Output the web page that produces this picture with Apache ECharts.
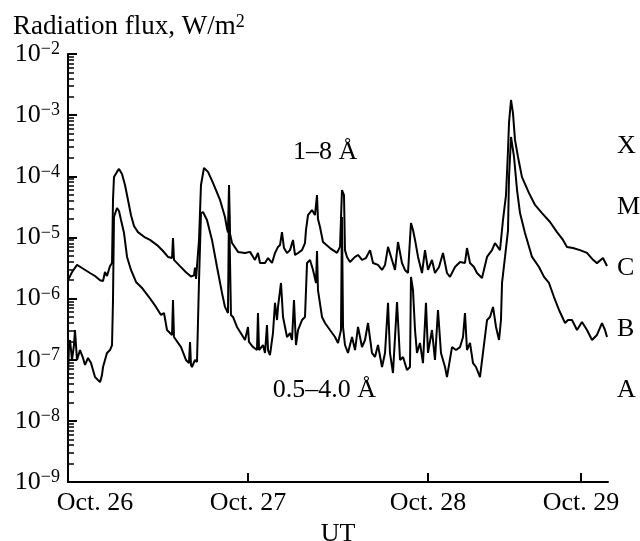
<!DOCTYPE html>
<html><head><meta charset="utf-8">
<script src="https://cdn.jsdelivr.net/npm/echarts@6/dist/echarts.min.js"></script>
<style>html,body{margin:0;padding:0;background:#fff}#c{width:640px;height:541px}</style>
</head><body><div id="c"></div>
<script>
// [hours from Oct. 26 00:00 UT, flux W/m^2]
const longBand = [[0,2.0e-6],[0.53,2.7e-6],[1.2,3.55e-6],[1.87,3.16e-6],[2.93,2.62e-6],[3.6,2.34e-6],[4.27,2.0e-6],[4.67,1.94e-6],[4.93,2.72e-6],[5.2,2.34e-6],
[5.6,3.4e-6],[5.87,3.8e-6],[6.0,4.1e-5],[6.13,9.7e-5],[6.53,1.18e-4],[6.8,1.32e-4],[7.2,1.09e-4],[7.6,7.2e-5],[8.0,4.1e-5],[8.4,2.3e-5],
[8.8,1.54e-5],[9.33,1.22e-5],[10.27,1.0e-5],[10.93,9.1e-6],[11.87,7.5e-6],[12.67,6.0e-6],[13.33,4.8e-6],[13.87,4.6e-6],[14.0,9.8e-6],[14.13,4.3e-6],
[14.93,3.4e-6],[15.73,2.7e-6],[16.4,2.3e-6],[16.8,2.4e-6],[16.93,3.2e-6],[17.07,2.1e-6],[17.2,2.0e-6],[17.47,9.1e-6],[17.73,7.2e-5],[18.13,1.37e-4],
[18.67,1.18e-4],[19.33,7.8e-5],[20.27,4.1e-5],[20.93,2.16e-5],[21.2,1.4e-5],[21.33,1.2e-5],[21.47,7.2e-5],[21.6,1.15e-5],[21.87,8.1e-6],[22.67,5.8e-6],
[23.6,5.57e-6],[24.27,5.8e-6],[24.93,4.28e-6],[25.33,5.57e-6],[25.6,3.82e-6],[26.27,3.82e-6],[26.67,4.6e-6],[27.2,3.82e-6],[27.6,5.57e-6],[28.0,7.0e-6],
[28.27,7.5e-6],[28.53,1.22e-5],[28.8,6.7e-6],[29.2,5.57e-6],[29.6,6.2e-6],[30.0,9.1e-6],[30.27,5.16e-6],[30.67,5.57e-6],[31.2,6.2e-6],[31.6,8.1e-6],
[31.73,1.32e-5],[32.0,2.32e-5],[32.53,2.81e-5],[32.93,2.32e-5],[33.2,4.94e-5],[33.33,2.0e-5],[33.6,1.48e-5],[34.0,8.4e-6],[34.93,6.7e-6],[35.87,5.6e-6],
[36.27,7.0e-6],[36.53,5.96e-5],[36.8,4.9e-5],[36.93,6.2e-6],[37.2,4.8e-6],[37.6,3.97e-6],[38.27,4.8e-6],[38.67,5.16e-6],[39.2,4.28e-6],[39.73,4.6e-6],
[40.27,6.2e-6],[40.67,3.82e-6],[41.33,3.55e-6],[41.87,2.94e-6],[42.27,3.55e-6],[42.67,7.0e-6],[43.2,4.28e-6],[43.6,2.94e-6],[44.0,8.4e-6],[44.53,3.82e-6],
[44.93,2.94e-6],[45.33,2.62e-6],[45.73,1.72e-5],[46.0,1.32e-5],[46.27,9.1e-6],[46.67,4.8e-6],[47.2,2.62e-6],[47.6,6.2e-6],[48.0,2.94e-6],[48.53,4.28e-6],
[48.93,2.62e-6],[49.47,3.29e-6],[50.0,5.57e-6],[50.53,2.62e-6],[50.93,2.26e-6],[51.6,3.29e-6],[52.27,3.97e-6],[52.93,3.82e-6],[53.2,6.7e-6],[53.6,3.82e-6],
[54.13,3.29e-6],[54.53,2.62e-6],[55.2,2.17e-6],[55.87,4.8e-6],[56.53,6.2e-6],[56.93,8.1e-6],[57.6,6.2e-6],[58.0,1.93e-5],[58.4,4.94e-5],[58.67,2.69e-4],
[58.8,7.45e-4],[59.07,1.77e-3],[59.33,1.08e-3],[59.6,3.93e-4],[60.0,2.07e-4],[60.53,9.7e-5],[61.47,5.3e-5],[62.27,3.4e-5],[63.2,2.5e-5],[64.27,1.79e-5],
[65.2,1.22e-5],[66.0,9.1e-6],[66.53,7.0e-6],[67.33,6.7e-6],[68.27,6.2e-6],[69.2,5.6e-6],[70.0,4.3e-6],[70.53,3.8e-6],[71.33,4.6e-6],[71.87,3.4e-6]];

const shortBand = [[0,5.2e-8],[0.13,1.74e-7],[0.27,2.1e-7],[0.53,9.9e-8],[0.8,1.74e-7],[0.93,3.06e-7],[1.2,9.9e-8],[1.6,1.44e-7],[2.0,1.07e-7],[2.27,8.2e-8],
[2.67,1.07e-7],[3.07,8.8e-8],[3.6,5.2e-8],[4.27,4.3e-8],[4.53,5.6e-8],[4.67,7.6e-8],[4.93,9.9e-8],[5.2,1.29e-7],[5.6,1.44e-7],[5.87,1.74e-7],
[6.0,9.5e-7],[6.13,2.16e-5],[6.53,3.03e-5],[6.8,2.7e-5],[7.07,1.93e-5],[7.47,1.18e-5],[7.87,4.8e-6],[8.4,2.94e-6],[9.07,1.87e-6],[9.87,1.49e-6],
[10.8,1.06e-6],[11.73,7.3e-7],[12.4,5.4e-7],[12.8,5.8e-7],[13.2,3.06e-7],[13.87,2.54e-7],[14.0,9.5e-7],[14.13,2.35e-7],[15.07,1.61e-7],[15.73,9.9e-8],
[16.13,8.8e-8],[16.27,1.95e-7],[16.4,8.2e-8],[16.53,7.6e-8],[16.93,9.9e-8],[17.2,9.2e-8],[17.47,2.0e-6],[17.73,2.5e-5],[18.0,2.6e-5],[18.53,1.93e-5],
[19.2,9.1e-6],[19.87,3.29e-6],[20.53,1.24e-6],[20.93,7.3e-7],[21.33,5.8e-7],[21.47,3.3e-5],[21.73,5.4e-7],[22.0,5.0e-7],[22.53,3.43e-7],[23.2,2.54e-7],
[23.6,2.1e-7],[24.0,3.43e-7],[24.13,1.95e-7],[24.67,1.61e-7],[25.2,1.44e-7],[25.33,5.8e-7],[25.47,1.44e-7],[25.6,1.34e-7],[26.0,1.74e-7],[26.27,1.29e-7],
[26.53,3.7e-7],[26.67,1.44e-7],[26.93,1.19e-7],[27.33,2.73e-7],[27.6,8.5e-7],[27.87,4.46e-7],[28.0,7.3e-7],[28.4,1.8e-6],[28.67,5.0e-7],[29.2,2.35e-7],
[29.6,2.73e-7],[29.87,2.1e-7],[30.13,9.5e-7],[30.4,1.74e-7],[30.67,3.06e-7],[31.2,4.46e-7],[31.6,5.0e-7],[31.87,3.82e-6],[32.27,4.28e-6],[32.67,2.94e-6],
[33.07,1.8e-6],[33.2,6.0e-6],[33.33,1.37e-6],[33.87,5.0e-7],[34.27,3.98e-7],[34.93,3.06e-7],[35.6,2.35e-7],[36.0,1.88e-7],[36.4,3.06e-7],[36.53,2.16e-5],
[36.67,3.43e-7],[36.93,1.74e-7],[37.33,1.29e-7],[37.87,2.35e-7],[38.27,1.44e-7],[38.67,3.43e-7],[39.2,1.61e-7],[39.6,2.1e-7],[40.0,3.98e-7],[40.53,1.29e-7],
[40.93,1.11e-7],[41.33,1.74e-7],[41.87,7.6e-8],[42.27,1.29e-7],[42.67,8.5e-7],[42.93,1.29e-7],[43.33,6.05e-8],[43.87,8.8e-7],[44.27,9.9e-8],[44.67,1.11e-7],
[45.2,6.8e-8],[45.6,7.6e-8],[45.73,2.26e-6],[46.0,1.37e-6],[46.27,3.06e-7],[46.53,1.29e-7],[46.93,1.88e-7],[47.33,8.8e-8],[47.73,8.5e-7],[48.0,1.29e-7],
[48.53,3.06e-7],[48.93,9.9e-8],[49.33,6.5e-7],[49.73,1.29e-7],[50.27,7.6e-8],[50.53,5.2e-8],[51.2,1.61e-7],[51.73,1.44e-7],[52.27,1.61e-7],[52.67,2.35e-7],
[52.93,5.8e-7],[53.2,1.44e-7],[53.6,1.88e-7],[54.0,8.8e-8],[54.4,7.6e-8],[54.93,5.2e-8],[55.33,1.29e-7],[55.87,4.46e-7],[56.27,5.0e-7],[56.67,7.3e-7],
[57.07,3.43e-7],[57.47,2.1e-7],[57.73,4.46e-7],[57.87,1.8e-6],[58.27,4.8e-6],[58.67,1.32e-5],[58.8,9.7e-5],[59.07,4.4e-4],[59.47,2.07e-4],[59.87,5.96e-5],
[60.27,2.5e-5],[60.93,1.18e-5],[61.87,4.8e-6],[62.8,3.29e-6],[63.47,2.26e-6],[64.13,1.8e-6],[64.8,1.06e-6],[65.47,6.5e-7],[66.27,3.98e-7],[66.67,4.46e-7],
[67.2,4.46e-7],[67.87,3.06e-7],[68.53,4.14e-7],[69.2,3.06e-7],[69.87,2.1e-7],[70.53,2.54e-7],[71.2,3.98e-7],[71.6,3.06e-7],[71.87,2.35e-7]];

const dayLabels = ['Oct. 26', 'Oct. 27', 'Oct. 28', 'Oct. 29'];
const dayLabelHours = [3.6, 24, 48, 68.4];
const dayTickHours = [24, 48, 68.4];
const yTickExps = [-9, -8, -7, -6, -5, -4, -3, -2];
const classLetters = ['X', 'M', 'C', 'B', 'A'];
const classLevels = [3.16e-4, 3.16e-5, 3.16e-6, 3.16e-7, 3.16e-8];
const bandNames = ['1–8 Å', '0.5–4.0 Å'];
const bandHours = [34.3, 34.2];
const bandFlux = [2.5e-4, 3.2e-8];

const FONT = "'Liberation Serif','Times New Roman',serif";
const FS = 26;
const majorVals = yTickExps.map(e => Math.pow(10, e));
const minorVals = [];
for (let e = -9; e < -2; e++) for (let m = 2; m <= 9; m++) minorVals.push(m * Math.pow(10, e));

const chart = echarts.init(document.getElementById('c'), null, {renderer: 'canvas'});
const supRich = {
  base: {fontFamily: FONT, fontSize: FS, color: '#000', lineHeight: 27},
  sup: {fontFamily: FONT, fontSize: 18, color: '#000', verticalAlign: 'top', lineHeight: 27}
};
const titleRich = {
  base: {fontFamily: FONT, fontSize: 27, color: '#000', lineHeight: 28},
  sup: {fontFamily: FONT, fontSize: 18, color: '#000', verticalAlign: 'top', lineHeight: 28}
};
const blank = {show: false};
chart.setOption({
  animation: false,
  backgroundColor: '#fff',
  title: {
    text: '{base|Radiation flux, W/m}{sup|2}',
    left: 8, top: 8,
    textStyle: {rich: titleRich, fontFamily: FONT, fontSize: 27, fontWeight: 'normal', color: '#000'}
  },
  grid: {left: 68, right: 32, top: 54, bottom: 59, outerBoundsMode: 'none', containLabel: false},
  xAxis: {
    type: 'value', min: 0, max: 72,
    name: 'UT', nameLocation: 'middle', nameGap: 27,
    nameTextStyle: {fontFamily: FONT, fontSize: FS, color: '#000'},
    axisLine: {lineStyle: {color: '#000', width: 2}},
    axisTick: {inside: true, length: 9, customValues: dayTickHours, lineStyle: {color: '#000', width: 2}},
    axisLabel: {
      customValues: dayLabelHours, margin: 8,
      fontFamily: FONT, fontSize: FS, color: '#000',
      formatter: v => { const i = dayLabelHours.indexOf(v); return i >= 0 ? dayLabels[i] : ''; }
    },
    splitLine: blank
  },
  yAxis: [{
    type: 'log', logBase: 10, min: 1e-9, max: 1e-2,
    axisLine: {show: true, lineStyle: {color: '#000', width: 2}},
    axisTick: {show: true, inside: true, length: 9, customValues: majorVals, lineStyle: {color: '#000', width: 2}},
    axisLabel: {
      customValues: majorVals, margin: 8,
      formatter: v => '{base|10}{sup|−' + Math.round(-Math.log10(v)) + '}',
      rich: supRich
    },
    splitLine: blank
  }, {
    type: 'log', logBase: 10, min: 1e-9, max: 1e-2, position: 'left',
    axisLine: blank,
    axisTick: {show: true, inside: true, length: 6, customValues: minorVals, lineStyle: {color: '#000', width: 1.5}},
    axisLabel: blank,
    splitLine: blank
  }],
  series: [{
    name: bandNames[0], type: 'line', symbol: 'none',
    data: longBand,
    lineStyle: {color: '#000', width: 2}
  }, {
    name: bandNames[1], type: 'line', symbol: 'none',
    data: shortBand,
    lineStyle: {color: '#000', width: 2}
  }, {
    type: 'scatter', symbolSize: 0, clip: false, silent: true,
    itemStyle: {opacity: 1, color: '#000'},
    data: classLetters.map((c, i) => ({value: [72, classLevels[i]], name: c})),
    label: {show: true, position: 'right', distance: 9, formatter: p => p.name,
      fontFamily: FONT, fontSize: FS, color: '#000', opacity: 1}
  }, {
    type: 'scatter', symbolSize: 0, clip: false, silent: true,
    itemStyle: {opacity: 1, color: '#000'},
    data: bandNames.map((c, i) => ({value: [bandHours[i], bandFlux[i]], name: c})),
    label: {show: true, position: 'inside', formatter: p => p.name,
      fontFamily: FONT, fontSize: FS, color: '#000', opacity: 1}
  }]
});
</script></body></html>
